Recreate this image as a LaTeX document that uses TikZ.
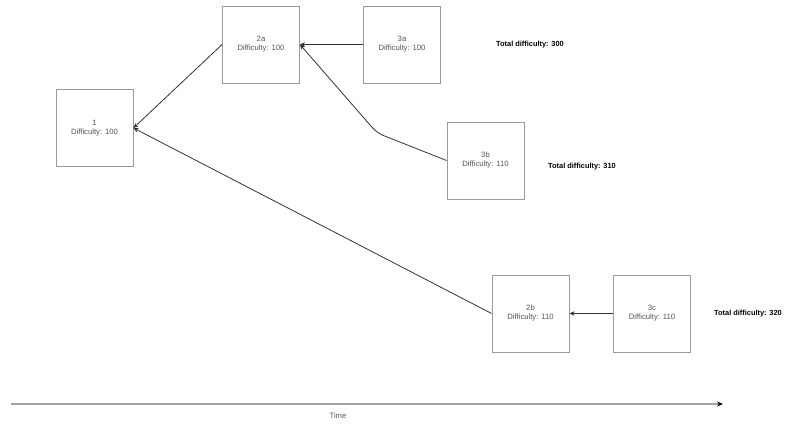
\documentclass[tikz,border=0pt]{standalone}
\usepackage{fontspec}
\setmainfont{Liberation Sans}
\usepackage{tikz}
\usetikzlibrary{arrows.meta,positioning}
\definecolor{dedge}{HTML}{9A9A9A}
\definecolor{dtext}{HTML}{555555}
\definecolor{dline}{HTML}{333333}
\definecolor{daxisc}{HTML}{A0A0A0}
\tikzset{
  >={Stealth[length=5pt,width=4.5pt]},
  dblock/.style={rectangle, draw=dedge, line width=0.9pt, fill=white,
                 minimum width=77pt, minimum height=77pt, inner sep=1pt,
                 align=center, text=dtext, font=\fontsize{7.7}{9}\selectfont},
  dtotal/.style={font=\fontsize{7.4}{9}\selectfont\bfseries, text=black},
  dlink/.style={->, dline, line width=0.8pt},
  daxis/.style={-{Stealth[length=6pt,width=5pt,black]}, daxisc, line width=1.4pt},
  dlbl/.style={text=dtext, font=\fontsize{7.7}{9}\selectfont},
}
\begin{document}
\begin{tikzpicture}[x=1pt,y=-1pt]
  \useasboundingbox (0,0) rectangle (800,430);

  % blocks
  \node[dblock] (b1) at (94.5,128)  {1\\Difficulty: 100};
  \node[dblock] (a2) at (261,44.5)  {2a\\Difficulty: 100};
  \node[dblock] (a3) at (402,44.5)  {3a\\Difficulty: 100};
  \node[dblock] (b3) at (485.5,160.5) {3b\\Difficulty: 110};
  \node[dblock] (b2) at (530.5,313.5) {2b\\Difficulty: 110};
  \node[dblock] (c3) at (652,313.5) {3c\\Difficulty: 110};

  % totals
  \node[dtotal] (t300) at (530,45)  {Total difficulty: 300};
  \node[dtotal] (t310) at (582,167) {Total difficulty: 310};
  \node[dtotal] (t320) at (748,314) {Total difficulty: 320};

  % links to parents
  \coordinate (bend) at (377,133);
  \draw[dlink] (a2.west) -- (b1.east);
  \draw[dlink] (b2.west) -- (b1.east);
  \draw[dlink] (a3.west) -- (a2.east);
  \draw[dlink, rounded corners=7pt] (b3.west) -- (bend) -- (a2.east);
  \draw[dlink] (c3.west) -- (b2.east);

  % time axis
  \coordinate (tstart) at (11,404);
  \coordinate (tend) at (723,404);
  \draw[daxis] (tstart) -- (tend);
  \node[dlbl] (time) at (338,416) {Time};

\end{tikzpicture}
\end{document}
